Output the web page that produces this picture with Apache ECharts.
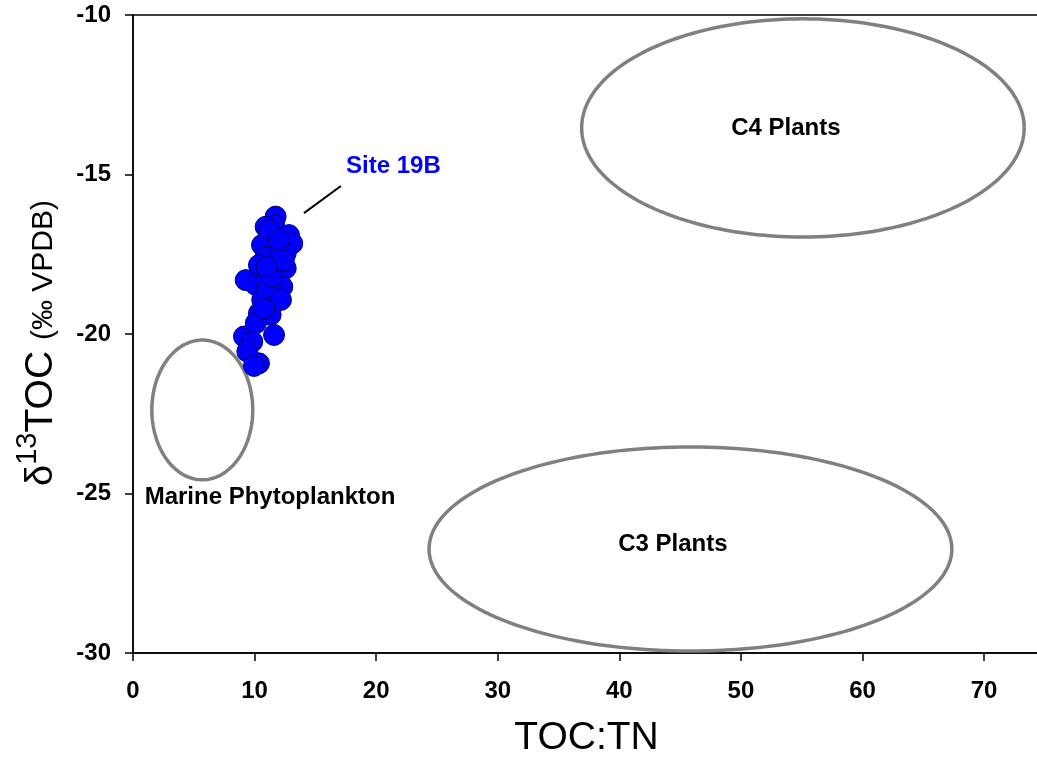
<!DOCTYPE html>
<html><head><meta charset="utf-8">
<script src="https://cdn.jsdelivr.net/npm/echarts@6/dist/echarts.min.js"></script>
<style>html,body{margin:0;padding:0;background:#fff}#c{width:1037px;height:757px}</style>
</head><body><div id="c"></div>
<script>
// Site 19B samples: [TOC:TN, d13C]
const siteX = [11.73,11.6,10.91,12.83,13.10,11.6,10.61,10.91,12.56,10.36,12.56,11.46,9.27,10.09,12.28,10.91,10.63,11.18,10.36,11.32,11.6,9.13,9.81,9.40,10.36,11.2,12.0,11.92,11.68,11.02,10.1,12.17,9.95,11.4,10.8,12.4,11.0];
const siteY = [-16.32,-16.58,-16.64,-16.90,-17.16,-17.26,-17.21,-17.58,-17.47,-17.84,-17.94,-17.99,-18.31,-18.46,-18.52,-18.36,-18.93,-19.04,-19.35,-19.40,-20.03,-20.08,-20.24,-20.55,-20.92,-16.74,-17.05,-17.68,-18.78,-18.62,-19.66,-18.93,-21.0,-18.2,-19.2,-17.7,-17.9];
// Source fields (ellipses): name, centre x, centre y, radius x, radius y
const fieldNames = ['Marine Phytoplankton','C4 Plants','C3 Plants'];
const fieldCX = [5.7, 55.1, 45.85];
const fieldCY = [-22.38, -13.54, -26.74];
const fieldRX = [4.15, 18.2, 21.5];
const fieldRY = [2.19, 3.42, 3.2];
// label positions
const fieldLabelX = [11.27, 53.7, 44.4];
const fieldLabelY = [-25.11, -13.54, -26.58];
const siteLabel = 'Site 19B';
const siteLabelPos = [21.42, -14.73];
const siteLeader = [[14.06,-16.21],[17.1,-15.36]];
const xTicks = [0,10,20,30,40,50,60,70];
const yTicks = [-30,-25,-20,-15,-10];

const chart = echarts.init(document.getElementById('c'));
const ellData = fieldNames.map((n,i)=>[fieldCX[i],fieldCY[i],fieldRX[i],fieldRY[i],n,fieldLabelX[i],fieldLabelY[i]]);
const scatterData = siteX.map((x,i)=>[x,siteY[i]]);
const font = 'Liberation Sans, Arial, sans-serif';
chart.setOption({
  animation:false,
  grid:{left:133,right:-3,top:15,bottom:104,containLabel:false,outerBoundsMode:'none',show:true,borderColor:'#000',borderWidth:1.5,backgroundColor:'transparent'},
  xAxis:{type:'value',min:0,max:74.6,interval:10,
    axisLine:{show:true,onZero:false,lineStyle:{color:'#000',width:1.5}},
    axisTick:{show:true,length:8,lineStyle:{color:'#000',width:1.5}},
    splitLine:{show:false},
    axisLabel:{color:'#000',fontWeight:'bold',fontSize:24,fontFamily:font,margin:26,
      formatter:v=>xTicks.includes(v)?String(v):''},
    name:'TOC:TN',nameLocation:'middle',nameGap:66,
    nameTextStyle:{color:'#000',fontSize:39,fontFamily:font}},
  yAxis:{type:'value',min:-30,max:-10,interval:5,
    axisLine:{show:true,onZero:false,lineStyle:{color:'#000',width:1.5}},
    axisTick:{show:true,length:8,lineStyle:{color:'#000',width:1.5}},
    splitLine:{show:false},
    axisLabel:{color:'#000',fontWeight:'bold',fontSize:24,fontFamily:font,margin:22,
      formatter:v=>yTicks.includes(v)?String(v):''}},
  graphic:[{type:'text',x:37,y:343,rotation:Math.PI/2,
    style:{text:'{d|δ}{s|13}{t|TOC }{u|(‰ VPDB)}',align:'center',verticalAlign:'middle',fill:'#000',
      rich:{d:{fontSize:38,fontFamily:font,verticalAlign:'bottom'},
            s:{fontSize:29,fontFamily:font,verticalAlign:'bottom',padding:[0,0,18,0]},
            t:{fontSize:39,fontFamily:font,verticalAlign:'bottom'},
            u:{fontSize:30,fontFamily:font,verticalAlign:'bottom',padding:[0,0,2,0]}}}}],
  series:[
    {type:'custom',data:ellData,z:2,
      renderItem:(params,api)=>{
        const cx=api.value(0),cy=api.value(1),rx=api.value(2),ry=api.value(3);
        const pts=[];
        for(let k=0;k<=180;k++){const a=k/180*Math.PI*2;pts.push(api.coord([cx+rx*Math.cos(a),cy+ry*Math.sin(a)]));}
        const lp=api.coord([api.value(5),api.value(6)]);
        return {type:'group',children:[
          {type:'polyline',shape:{points:pts},style:{stroke:'#808080',lineWidth:3.5,fill:null}},
          {type:'text',x:lp[0],y:lp[1],style:{text:ellData[params.dataIndex][4],fontSize:24,fontWeight:'bold',fontFamily:font,fill:'#000',align:'center',verticalAlign:'middle'}}
        ]};
      }},
    {type:'scatter',data:scatterData,symbolSize:21,z:5,
      itemStyle:{color:'#0000ff',borderColor:'#00006e',borderWidth:1,opacity:1}},
    {type:'custom',data:[[siteLeader[0][0],siteLeader[0][1],siteLeader[1][0],siteLeader[1][1]]],z:6,
      renderItem:(params,api)=>{
        const a=api.coord([api.value(0),api.value(1)]),b=api.coord([api.value(2),api.value(3)]);
        const lp=api.coord(siteLabelPos);
        return {type:'group',children:[
          {type:'line',shape:{x1:a[0],y1:a[1],x2:b[0],y2:b[1]},style:{stroke:'#000',lineWidth:2}},
          {type:'text',x:lp[0],y:lp[1],style:{text:siteLabel,fontSize:24,fontWeight:'bold',fontFamily:font,fill:'#0000ff',align:'center',verticalAlign:'middle'}}
        ]};
      }}
  ]
});
</script></body></html>
